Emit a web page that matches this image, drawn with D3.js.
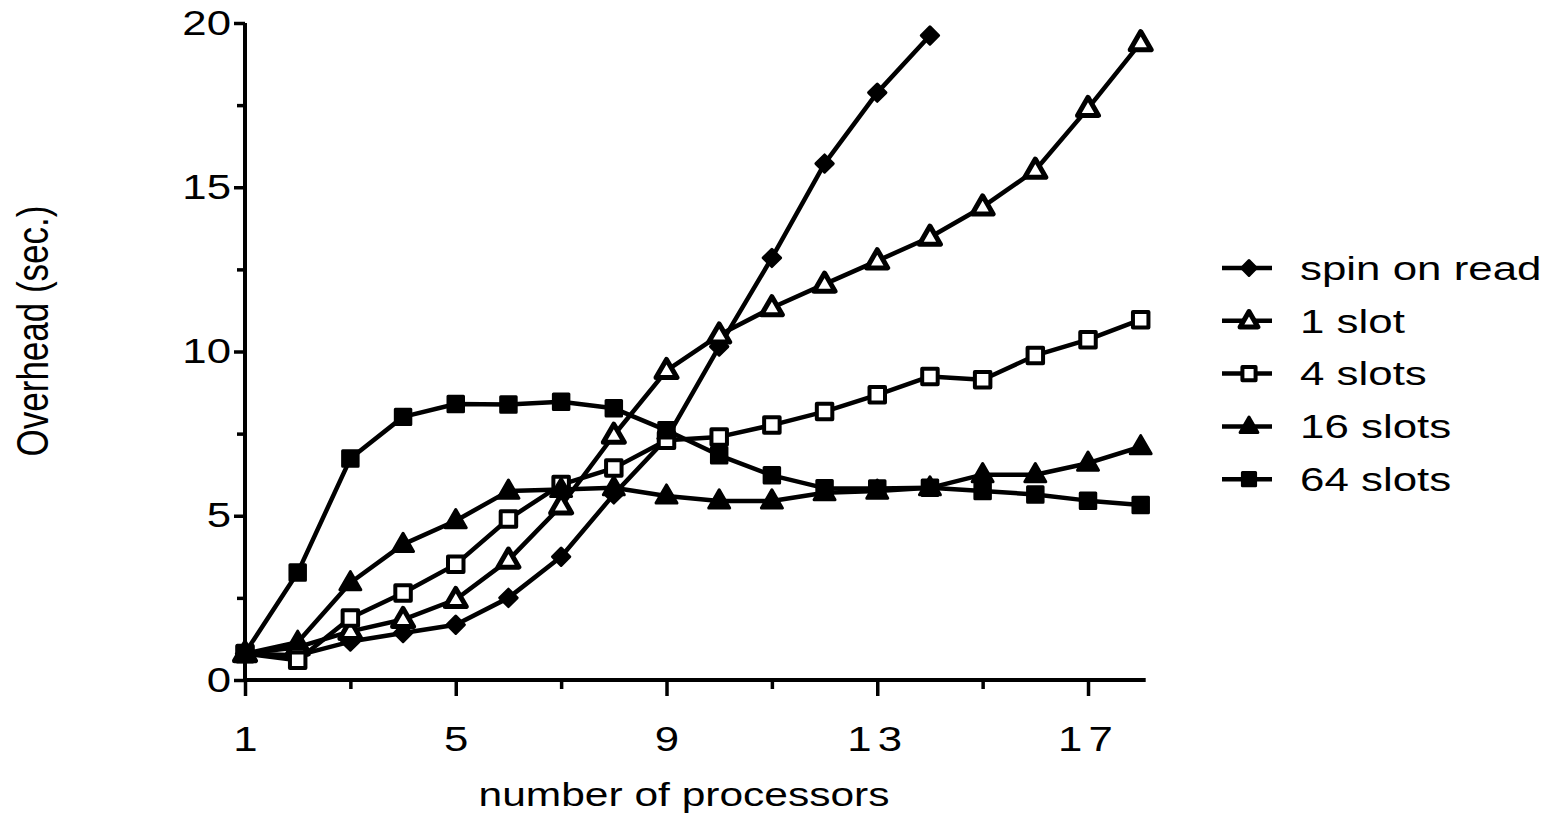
<!DOCTYPE html>
<html>
<head>
<meta charset="utf-8">
<script src="https://cdn.jsdelivr.net/npm/d3@7"></script>
<style>
  body { margin: 0; background: #fff; }
  text { font-family: "Liberation Sans", Arial, Helvetica, sans-serif; fill: #000; }
</style>
</head>
<body>
<svg width="1560" height="816"></svg>
<script>
// data
var processors = [1, 2, 3, 4, 5, 6, 7, 8, 9, 10, 11, 12, 13, 14, 15, 16, 17, 18];
var spinOnRead = [0.8, 0.75, 1.17, 1.43, 1.68, 2.5, 3.75, 5.65, 7.35, 10.15, 12.85, 15.72, 17.88, 19.62];
var slot1  = [0.8, 1.0, 1.48, 1.84, 2.45, 3.65, 5.3, 7.45, 9.42, 10.5, 11.33, 12.05, 12.76, 13.48, 14.4, 15.52, 17.4, 19.4];
var slots4 = [0.8, 0.6, 1.89, 2.65, 3.52, 4.9, 5.95, 6.45, 7.3, 7.4, 7.76, 8.17, 8.68, 9.24, 9.14, 9.88, 10.36, 10.97];
var slots16 = [0.8, 1.15, 2.96, 4.13, 4.85, 5.75, 5.8, 5.85, 5.6, 5.45, 5.45, 5.7, 5.75, 5.85, 6.25, 6.25, 6.6, 7.1];
var slots64 = [0.82, 3.27, 6.74, 8.01, 8.4, 8.39, 8.47, 8.27, 7.6, 6.84, 6.23, 5.84, 5.83, 5.85, 5.75, 5.65, 5.46, 5.33];

var seriesNames = ["spin on read", "1 slot", "4 slots", "16 slots", "64 slots"];
var xTicks = [1, 5, 9, 13, 17];
var xMinorTicks = [3, 7, 11, 15];
var yTicks = [0, 5, 10, 15, 20];
var yMinorTicks = [2.5, 7.5, 12.5, 17.5];

var series = [
  { name: seriesNames[0], values: spinOnRead, shape: "diamond", fill: "#000" },
  { name: seriesNames[1], values: slot1, shape: "triangle", fill: "#fff" },
  { name: seriesNames[2], values: slots4, shape: "square", fill: "#fff" },
  { name: seriesNames[3], values: slots16, shape: "triangle", fill: "#000" },
  { name: seriesNames[4], values: slots64, shape: "square", fill: "#000" }
];

var svg = d3.select("svg");
svg.append("rect").attr("width", 1560).attr("height", 816).attr("fill", "#fff");

var xScale = d3.scaleLinear().domain([1, 18]).range([245, 1140.7]),
    yScale = d3.scaleLinear().domain([0, 20]).range([680, 23]);

var stretch = 1.25; // the scan is wider than tall

// axes
var xMajor = svg.append("g")
  .attr("transform", "translate(0," + yScale(0) + ")")
  .call(d3.axisBottom(xScale).tickValues(xTicks).tickSize(16).tickPadding(30).tickFormat(d3.format("d")));
var xMinor = svg.append("g")
  .attr("transform", "translate(0," + yScale(0) + ")")
  .call(d3.axisBottom(xScale).tickValues(xMinorTicks).tickSize(9).tickFormat(""));
var yMajor = svg.append("g")
  .attr("transform", "translate(" + xScale(1) + ",0)")
  .call(d3.axisLeft(yScale).tickValues(yTicks).tickSize(11).tickPadding(3));
var yMinor = svg.append("g")
  .attr("transform", "translate(" + xScale(1) + ",0)")
  .call(d3.axisLeft(yScale).tickValues(yMinorTicks).tickSize(8).tickFormat(""));

[xMajor, xMinor, yMajor, yMinor].forEach(function(a) {
  a.select(".domain").remove();
  a.selectAll("line").attr("stroke", "#000").attr("stroke-width", 3.5);
});

xMajor.selectAll("text")
  .style("font-size", "35px")
  .attr("letter-spacing", function(d) { return d > 9 ? "5px" : "0px"; })
  .attr("transform", "scale(" + stretch + ",1)");
yMajor.selectAll("text")
  .style("font-size", "35px")
  .attr("x", -14 / stretch)
  .attr("transform", "scale(" + stretch + ",1)");

// axis lines
svg.append("line")
  .attr("x1", xScale(1)).attr("x2", xScale(18) + 5)
  .attr("y1", yScale(0)).attr("y2", yScale(0))
  .attr("stroke", "#000").attr("stroke-width", 4);
svg.append("line")
  .attr("x1", xScale(1)).attr("x2", xScale(1))
  .attr("y1", yScale(0) + 2).attr("y2", yScale(20))
  .attr("stroke", "#000").attr("stroke-width", 4);

// axis titles
svg.append("text")
  .attr("transform", "translate(684,806) scale(" + stretch + ",1)")
  .attr("text-anchor", "middle")
  .style("font-size", "34px")
  .text("number of processors");

svg.append("text")
  .attr("transform", "translate(33,331) scale(" + stretch + ",1) rotate(-90)")
  .attr("text-anchor", "middle")
  .attr("dy", "0.35em")
  .style("font-size", "35px")
  .text("Overhead (sec.)");

// markers
function markerPath(shape, big) {
  var k = big ? 1 : 0.85;
  if (shape === "square") return d3.symbol().type(d3.symbolSquare).size(240 * k * k)();
  if (shape === "triangle") return d3.symbol().type(d3.symbolTriangle).size(190 * k * k)();
  return d3.symbol().type(d3.symbolSquare).size(150 * k * k)();
}
function markerTransform(shape, x, y) {
  var t = "translate(" + x + "," + y + ")";
  if (shape === "diamond") t += " rotate(45)";
  if (shape === "triangle") t += " translate(0,1)";
  return t;
}
function markerStroke(s) {
  if (s.fill === "#fff") return s.shape === "triangle" ? 5 : 4;
  return 3;
}

var line = d3.line()
  .x(function(d, i) { return xScale(processors[i]); })
  .y(function(d) { return yScale(d); });

svg.selectAll(".series-line")
  .data(series)
  .enter()
  .append("path")
  .attr("class", "series-line")
  .attr("d", function(s) { return line(s.values); })
  .attr("fill", "none")
  .attr("stroke", "#000")
  .attr("stroke-width", 4.5)
  .attr("stroke-linejoin", "round");

series.forEach(function(s) {
  svg.append("g")
    .selectAll("path")
    .data(s.values)
    .enter()
    .append("path")
    .attr("d", markerPath(s.shape, true))
    .attr("transform", function(d, i) { return markerTransform(s.shape, xScale(processors[i]), yScale(d)); })
    .attr("fill", s.fill)
    .attr("stroke", "#000")
    .attr("stroke-width", markerStroke(s))
    .attr("stroke-linejoin", "round");
});

// legend
var legend = svg.append("g").attr("transform", "translate(1222,268)");
var rows = legend.selectAll("g")
  .data(series)
  .enter()
  .append("g")
  .attr("transform", function(d, i) { return "translate(0," + i * 52.8 + ")"; });

rows.append("line")
  .attr("x1", 0).attr("x2", 50)
  .attr("stroke", "#000").attr("stroke-width", 4.5);
rows.append("path")
  .attr("d", function(s) { return markerPath(s.shape, false); })
  .attr("transform", function(s) { return markerTransform(s.shape, 27, 0); })
  .attr("fill", function(s) { return s.fill; })
  .attr("stroke", "#000")
  .attr("stroke-width", markerStroke)
  .attr("stroke-linejoin", "round");
rows.append("text")
  .attr("transform", "translate(78,0) scale(1.33,1)")
  .attr("dy", "0.36em")
  .style("font-size", "33px")
  .text(function(s) { return s.name; });
</script>
</body>
</html>
